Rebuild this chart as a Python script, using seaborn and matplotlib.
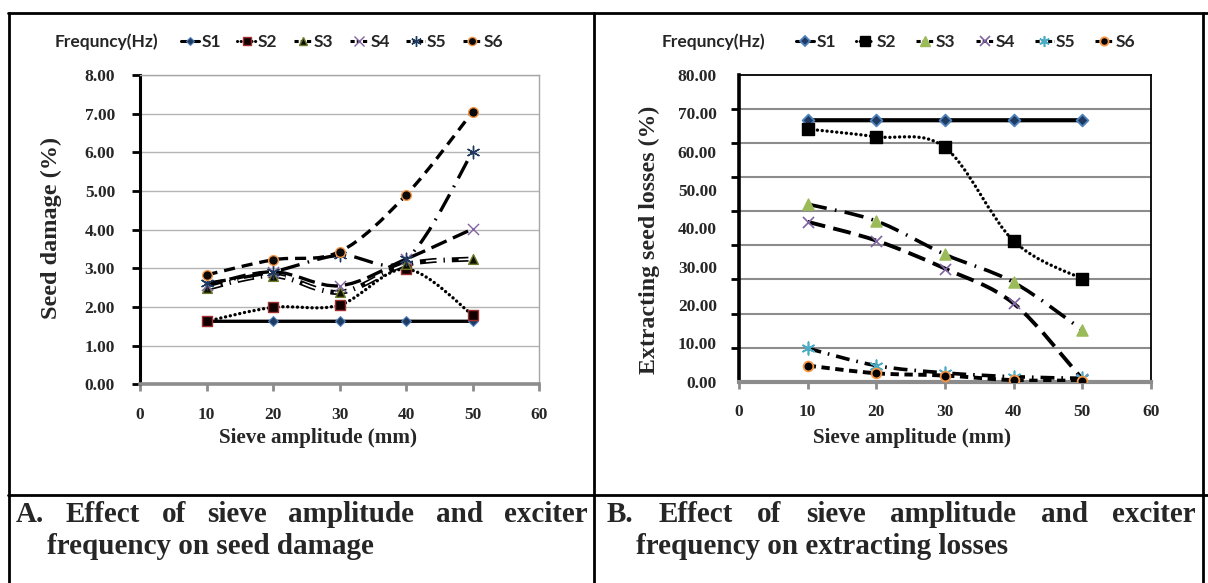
import numpy as np
import pandas as pd
import matplotlib
matplotlib.use("Agg")
import matplotlib.pyplot as plt
import seaborn as sns
from matplotlib.path import Path
from matplotlib.patches import PathPatch
from matplotlib.lines import Line2D

# ---------------- data ----------------
amplitude = [10, 20, 30, 40, 50]
series_names = ["S1", "S2", "S3", "S4", "S5", "S6"]

damage_S1 = [1.63, 1.63, 1.63, 1.63, 1.63]
damage_S2 = [1.63, 1.99, 2.05, 2.98, 1.79]
damage_S3 = [2.48, 2.81, 2.38, 3.10, 3.24]
damage_S4 = [2.57, 2.91, 2.55, 3.24, 4.02]
damage_S5 = [2.61, 2.91, 3.34, 3.24, 6.02]
damage_S6 = [2.83, 3.22, 3.43, 4.90, 7.05]

losses_S1 = [68.2, 68.2, 68.2, 68.2, 68.2]
losses_S2 = [65.9, 63.9, 61.1, 36.7, 26.8]
losses_S3 = [46.3, 41.9, 33.2, 25.9, 13.5]
losses_S4 = [41.7, 36.8, 29.5, 20.4, 0.7]
losses_S5 = [8.7, 4.2, 2.3, 1.3, 0.9]
losses_S6 = [4.2, 2.2, 1.6, 0.4, 0.3]

x_ticks = [0, 10, 20, 30, 40, 50, 60]
damage_ticks = [0, 1, 2, 3, 4, 5, 6, 7, 8]
losses_ticks = [0, 10, 20, 30, 40, 50, 60, 70, 80]

legend_title = "Frequncy(Hz)"
ylabel_A = "Seed damage (%)"
ylabel_B = "Extracting seed losses (%)"
xlabel = "Sieve amplitude (mm)"
caption_A = ["A. Effect of sieve amplitude and exciter", "frequency on seed damage"]
caption_B = ["B. Effect of sieve amplitude and exciter", "frequency on extracting losses"]

# ---------------- style ----------------
sns.set_theme(style="white")
plt.rcParams["font.family"] = ["Liberation Serif", "DejaVu Serif"]
plt.rcParams["font.weight"] = "bold"
plt.rcParams["lines.scale_dashes"] = False

W, H = 1208, 583
fig = plt.figure(figsize=(W / 100, H / 100), dpi=100)
fig.patch.set_facecolor("white")

def fx(p):
    return p / W

def fy(p):
    return 1 - p / H

axA = fig.add_axes([fx(140), fy(384.3), (539.3 - 140) / W, (384.3 - 75) / H])
axB = fig.add_axes([fx(739), fy(381.7), (1151 - 739) / W, (381.7 - 75) / H])

DOT = (0, (0.1, 3.4))

styles_A = {
    "S1": dict(ls="-", lw=2.4, marker="D", ms=5, mfc="#1f3a60", mec="#4f81bd", mew=0.8),
    "S2": dict(ls=DOT, lw=2.4, marker="s", ms=7, mfc="#120000", mec="#a03030", mew=1.0),
    "S3": dict(ls=(0, (12, 5, 1, 5)), lw=3.6, marker="^", ms=7, mfc="#101000", mec="#6b7b2a", mew=1.0, double=True),
    "S4": dict(ls=(0, (12, 5)), lw=2.4, marker="x", ms=8, mfc="#8064a2", mec="#8064a2", mew=1.0),
    "S5": dict(ls=(0, (14, 6, 1.2, 6)), lw=2.4, marker=(6, 2, 0), ms=9, mfc="#1f3a60", mec="#1f3a60", mew=1.0),
    "S6": dict(ls=(0, (8, 5)), lw=2.4, marker="o", ms=7, mfc="#0a0a0a", mec="#f79646", mew=1.0),
}
styles_B = {
    "S1": dict(ls="-", lw=3.0, marker="D", ms=6, mfc="#1f3a60", mec="#4f81bd", mew=1.3),
    "S2": dict(ls=DOT, lw=2.4, marker="s", ms=8, mfc="#000000", mec="#000000", mew=1.0),
    "S3": dict(ls=(0, (14, 6, 1.2, 6)), lw=2.6, marker="^", ms=8, mfc="#9bbb59", mec="#9bbb59", mew=1.0),
    "S4": dict(ls=(0, (13, 6)), lw=2.8, marker="x", ms=8, mfc="#8064a2", mec="#8064a2", mew=1.2),
    "S5": dict(ls=(0, (10, 5, 1.2, 5)), lw=2.6, marker=(6, 2, 0), ms=9, mfc="#4bacc6", mec="#4bacc6", mew=1.2),
    "S6": dict(ls=(0, (6, 4)), lw=2.8, marker="o", ms=7, mfc="#000000", mec="#f79646", mew=1.3),
}

def smooth_path(xs, ys):
    pts = np.column_stack([xs, ys]).astype(float)
    n = len(pts)
    verts = [tuple(pts[0])]
    codes = [Path.MOVETO]
    for i in range(n - 1):
        p0 = pts[i - 1] if i > 0 else pts[i]
        p1 = pts[i]
        p2 = pts[i + 1]
        p3 = pts[i + 2] if i + 2 < n else pts[i + 1]
        c1 = p1 + (p2 - p0) / 6.0
        c2 = p2 - (p3 - p1) / 6.0
        verts += [tuple(c1), tuple(c2), tuple(p2)]
        codes += [Path.CURVE4] * 3
    return Path(verts, codes)

def draw_series(ax, name, ys, st, z):
    path = smooth_path(amplitude, ys)
    cap = "round" if st["ls"] == DOT else "butt"
    ax.add_patch(PathPatch(path, fill=False, edgecolor="black", lw=st["lw"],
                           linestyle=st["ls"], capstyle=cap, zorder=z))
    if st.get("double"):
        ax.add_patch(PathPatch(path, fill=False, edgecolor="white", lw=st["lw"] * 0.33,
                               linestyle=(0, (10.4, 6.6, 0.01, 6.6)), capstyle="butt", zorder=z + 0.1))
    df = pd.DataFrame({"x": amplitude, "y": ys})
    size = (st["ms"]) ** 2
    if st["marker"] == "x":
        sns.scatterplot(data=df, x="x", y="y", marker="x", s=size, color=st["mec"],
                        linewidth=st["mew"], ax=ax, zorder=z + 0.5, legend=False)
    else:
        sns.scatterplot(data=df, x="x", y="y", marker=st["marker"], s=size,
                        color=st["mfc"], edgecolor=st["mec"], linewidth=st["mew"],
                        ax=ax, zorder=z + 0.5, legend=False)

damage = [damage_S1, damage_S2, damage_S3, damage_S4, damage_S5, damage_S6]
losses = [losses_S1, losses_S2, losses_S3, losses_S4, losses_S5, losses_S6]

for i, (nm, ys) in enumerate(zip(series_names, damage)):
    draw_series(axA, nm, ys, styles_A[nm], 3 + i)
for i, (nm, ys) in enumerate(zip(series_names, losses)):
    draw_series(axB, nm, ys, styles_B[nm], 3 + i)

tick_font = dict(family=["Liberation Serif"], weight="bold", size=12.5)

# ---- axis A ----
axA.set_xlim(0, 60)
axA.set_ylim(0, 8)
axA.set_xticks(x_ticks)
axA.set_xticklabels([str(v) for v in x_ticks], fontdict=tick_font)
axA.set_yticks(damage_ticks)
axA.set_yticklabels([f"{v:.2f}" for v in damage_ticks], fontdict=tick_font)
axA.yaxis.grid(True, color="#b4b4b4", lw=1.0)
axA.set_axisbelow(True)
axA.spines["left"].set(color="black", lw=2.2)
axA.spines["bottom"].set(color="#8c8c8c", lw=2.6)
axA.spines["top"].set(color="#a6a6a6", lw=1.0)
axA.spines["right"].set(color="#a6a6a6", lw=1.0)
axA.tick_params(axis="y", direction="out", length=6, width=2, color="black", pad=12, left=True)
axA.tick_params(axis="x", direction="out", length=5, width=2, color="#8c8c8c", pad=11, bottom=True)
axA.set_xlabel("")
axA.set_ylabel("")

# ---- axis B ----
axB.set_xlim(0, 60)
axB.set_ylim(0, 80)
axB.set_xticks(x_ticks)
axB.set_xticklabels([str(v) for v in x_ticks], fontdict=tick_font)
axB.set_yticks(losses_ticks)
axB.set_yticklabels([f"{v:.2f}" for v in losses_ticks], fontdict=tick_font)
minor_pos = [80 * k / 9 for k in range(10)]
axB.set_yticks(minor_pos, minor=True)
axB.yaxis.grid(True, which="minor", color="#8c8c8c", lw=1.5)
axB.yaxis.grid(False, which="major")
axB.set_axisbelow(True)
axB.spines["left"].set(color="black", lw=2.6)
axB.spines["bottom"].set(color="#8c8c8c", lw=3.0)
axB.spines["top"].set(color="black", lw=1.3)
axB.spines["right"].set(color="black", lw=1.3)
axB.tick_params(axis="y", which="major", length=0, pad=16)
axB.tick_params(axis="y", which="minor", direction="out", length=6, width=2, color="black", left=True)
axB.tick_params(axis="x", direction="out", length=5, width=2, color="#8c8c8c", pad=11, bottom=True)
axB.set_xlabel("")
axB.set_ylabel("")

# axis titles
lab_font = dict(family=["Liberation Serif"], weight="bold")
fig.text(fx(51), fy(228), ylabel_A, rotation=90, ha="center", va="center", size=17.5, **lab_font)
fig.text(fx(649), fy(240), ylabel_B, rotation=90, ha="center", va="center", size=17.2, **lab_font)
fig.text(fx(318), fy(438), xlabel, ha="center", va="center", size=15.2, **lab_font)
fig.text(fx(912), fy(438), xlabel, ha="center", va="center", size=15.2, **lab_font)

# legends
LEG_SIZE = 12.5
leg_font = dict(family=["Lato", "DejaVu Sans"], weight="bold", size=LEG_SIZE)

def make_handles(styles):
    hs = []
    for nm in series_names:
        st = styles[nm]
        if st["ls"] == "-":
            ls = "-"
        elif st["ls"] == DOT:
            ls = (0, (0.1, 2.5))
        else:
            ls = (0, (3, 1.5))
        hs.append(Line2D([], [], color="black", lw=2.2, linestyle=ls, dash_capstyle="round" if st["ls"] == DOT else "butt",
                         marker=st["marker"], ms=st["ms"] * 0.85, mfc=st["mfc"], mec=st["mec"], mew=st["mew"]))
    return hs

for styles, tx, lx, cs in [(styles_A, 55, 181, 0.95), (styles_B, 662, 796, 1.15)]:
    fig.text(fx(tx), fy(42), legend_title, ha="left", va="center", **leg_font)
    fig.legend(handles=make_handles(styles), labels=series_names, loc="center left",
               bbox_to_anchor=(fx(lx), fy(42)), ncol=6, frameon=False,
               prop=dict(family="Lato", weight="bold", size=LEG_SIZE),
               handlelength=1.05, handletextpad=0.12, columnspacing=cs, borderpad=0, borderaxespad=0)

# table borders
def hline(y, x0, x1):
    fig.add_artist(Line2D([fx(x0), fx(x1)], [fy(y), fy(y)], color="black", lw=2.0))

def vline(x, y0, y1):
    fig.add_artist(Line2D([fx(x), fx(x)], [fy(y0), fy(y1)], color="black", lw=2.0))

hline(12.5, 8, 1208)
hline(495, 8, 1208)
vline(8.5, 12.5, 583)
vline(593.7, 12.5, 583)
vline(1203, 12.5, 583)

# captions (justified first line, hanging indent second line)
cap_font = dict(family=["Liberation Serif"], weight="bold", size=21)
renderer = fig.canvas.get_renderer()

def justify(text, x0, x1, y):
    words = text.split()
    objs = [fig.text(fx(x0), fy(y), w, ha="left", va="center", **cap_font) for w in words]
    widths = [o.get_window_extent(renderer).width for o in objs]
    gap = (x1 - x0 - sum(widths)) / (len(words) - 1)
    x = x0
    for o, w in zip(objs, widths):
        o.set_x(fx(x))
        x += w + gap

justify(caption_A[0], 16, 588, 514)
fig.text(fx(47), fy(546), caption_A[1], ha="left", va="center", **cap_font)
justify(caption_B[0], 607, 1196, 514)
fig.text(fx(636), fy(546), caption_B[1], ha="left", va="center", **cap_font)

fig.savefig("out.png", dpi=100, facecolor="white")
